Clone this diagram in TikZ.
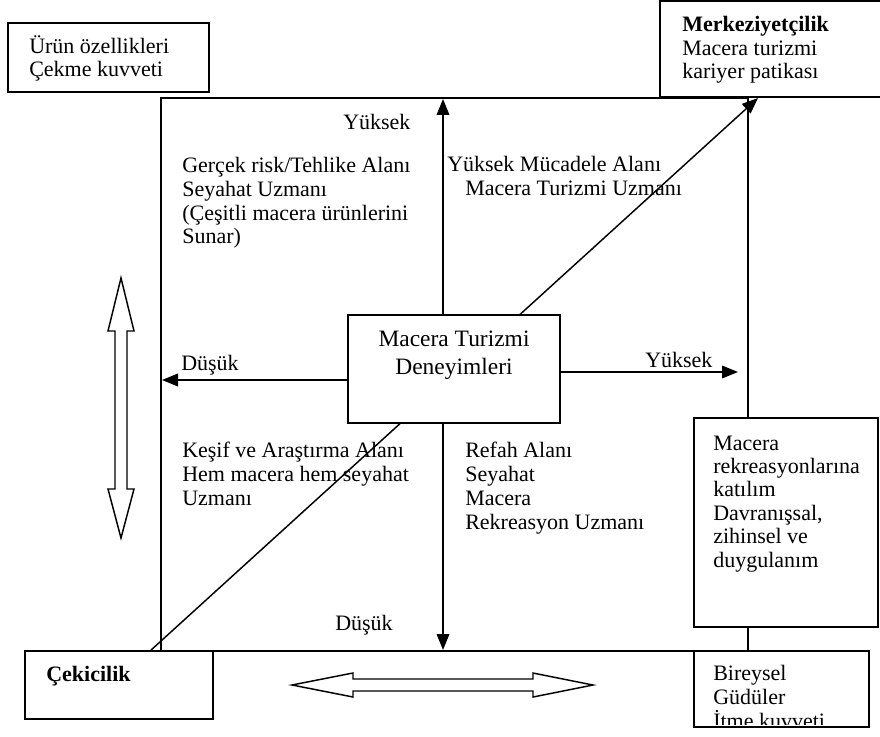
\documentclass[tikz,border=0pt]{standalone}
\usepackage{fontspec}
\setmainfont{Liberation Serif}
\usetikzlibrary{arrows.meta,fit}
\begin{document}
\begin{tikzpicture}[x=0.75pt,y=-0.75pt,
 frame/.style={draw, line width=1.2pt, inner sep=0pt},
 wbox/.style={frame, fill=white},
 txt/.style={anchor=base west, inner sep=0pt, align=left, font=\fontsize{16.5}{17.8}\selectfont},
 axis/.style={line width=1.1pt, -{Triangle[length=12pt,width=9.5pt]}},
 blockarrow/.style={line width=1.1pt, fill=white, line join=miter}]
\useasboundingbox (0,0) rectangle (880,737);
\clip (0,0) rectangle (880,737);

% main square
\node[frame, fit={(161,98) (748,651)}] (main) {};

% top-left box (multi-line nodes: base = last line)
\node[wbox, fit={(8,23) (209,92)}] (prod) {};
\node[txt] (prodT) at (29,77) {Ürün özellikleri\\Çekme kuvveti};

% top-right box
\node[wbox, fit={(660,1) (890,97)}] (merk) {};
\node[txt] (merkT) at (682,79) {\textbf{Merkeziyetçilik}\\Macera turizmi\\kariyer patikası};

% diagonal
\coordinate (dstart) at (150,651);
\coordinate (dend) at (758,98);
\draw[axis] (dstart) -- (dend);

% centre box
\node[wbox, fit={(348,315) (560,423)}] (center) {};
\node[anchor=base, inner sep=0pt, align=center, font=\fontsize{17.6}{20.5}\selectfont] (centerT) at (454,374) {Macera Turizmi\\Deneyimleri};

% axes
\coordinate (vtop) at (443,99);
\coordinate (vbot) at (443,650);
\coordinate (hleft) at (162,380);
\coordinate (hright) at (738,372);
\draw[axis] (center.north -| vtop) -- (vtop);
\draw[axis] (center.south -| vbot) -- (vbot);
\draw[axis] (center.west |- hleft) -- (hleft);
\draw[axis] (center.east |- hright) -- (hright);

% right boxes
\node[wbox, fit={(694,418) (878,627)}] (part) {};
\node[txt, font=\fontsize{16.5}{17.55}\selectfont] (partT) at (713,567) {Macera\\rekreasyonlarına\\katılım\\Davranışsal,\\zihinsel ve\\duygulanım};

\node[wbox, fit={(694,651) (869,727)}] (ind) {};
\begin{scope}
\clip (694,651) rectangle (869,724);
\node[txt] (indT) at (713,728) {Bireysel\\Güdüler\\İtme kuvveti};
\end{scope}

% bottom-left box
\node[wbox, fit={(25,651) (213,719)}] (cek) {};
\node[txt, font=\bfseries\fontsize{16.5}{17.8}\selectfont] (cekT) at (46,681) {Çekicilik};

% labels
\node[txt] (yTop) at (343,130) {Yüksek};
\node[txt] (q1) at (182,244) {Gerçek risk/Tehlike Alanı\\Seyahat Uzmanı\\(Çeşitli macera ürünlerini\\Sunar)};
\node[txt] (q2a) at (447,172) {Yüksek Mücadele Alanı};
\node[txt] (q2b) at (465,196) {Macera Turizmi Uzmanı};
\node[txt] (dLeft) at (181,370) {Düşük};
\node[txt] (yRight) at (645,368) {Yüksek};
\node[txt] (q3) at (182,505) {Keşif ve Araştırma Alanı\\Hem macera hem seyahat\\Uzmanı};
\node[txt] (q4) at (465,529) {Refah Alanı\\Seyahat\\Macera\\Rekreasyon Uzmanı};
\node[txt] (dBot) at (335,630) {Düşük};

% block arrows
\draw[blockarrow] (121,278) -- (134,331) -- (127,331) -- (127,489) -- (134,489) -- (121,538) -- (108,489) -- (115,489) -- (115,331) -- (108,331) -- cycle;
\draw[blockarrow] (292,685) -- (353,673) -- (353,679) -- (533,679) -- (533,673) -- (593,685) -- (533,697) -- (533,691) -- (353,691) -- (353,697) -- cycle;
\end{tikzpicture}
\end{document}
